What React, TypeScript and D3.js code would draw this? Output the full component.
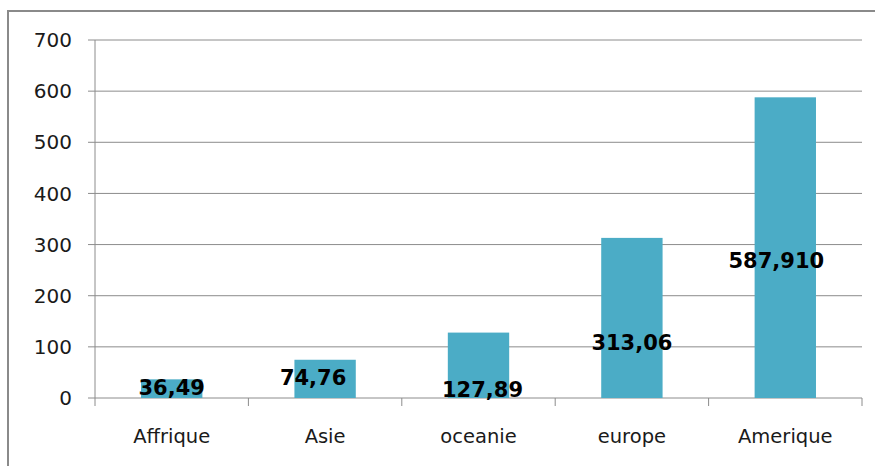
import React from 'react';
import * as d3 from 'd3';

const categories = ['Affrique', 'Asie', 'oceanie', 'europe', 'Amerique'];
const values = [36.49, 74.76, 127.89, 313.06, 587.91];
const valueLabels = ['36,49', '74,76', '127,89', '313,06', '587,910'];
// labels were dragged by hand in the original: baseline value and x nudge
const labelAt = [6, 25, 2, 94, 254];
const labelDx = [0, -12, 4, 0, -9];
const yTicks = [0, 100, 200, 300, 400, 500, 600, 700];

const W = 875;
const H = 466;
const margin = { left: 95, right: 13, top: 40, bottom: 68 };

export default function App() {
  const x = d3
    .scaleBand<string>()
    .domain(categories)
    .range([margin.left, W - margin.right])
    .paddingInner(0.6)
    .paddingOuter(0.3);
  const bandStep = x.step();
  const y = d3.scaleLinear().domain([0, 700]).range([H - margin.bottom, margin.top]);

  const grid = '#8c8c8c';
  const font = 'DejaVu Sans, sans-serif';
  const x0 = margin.left;
  const x1 = W - margin.right;
  const yBase = y(0);

  return (
    <svg width={W} height={H} style={{ position: 'absolute', left: 0, top: 0 }}>
      <rect x={0} y={0} width={W} height={H} fill="#fff" />
      {/* outer frame, right and bottom run off the picture */}
      <rect x={8} y={11} width={W + 10} height={H + 10} fill="none" stroke="#8a8a8a" strokeWidth={2} />

      {yTicks.map((t) => (
        <g key={t}>
          <line x1={x0 - 7} x2={x1} y1={y(t)} y2={y(t)} stroke={grid} strokeWidth={1} />
          <text
            x={72}
            y={y(t)}
            dy="0.36em"
            textAnchor="end"
            fontFamily={font}
            fontSize={20}
            fill="#1a1a1a"
          >
            {t}
          </text>
        </g>
      ))}

      <line x1={x0} x2={x0} y1={margin.top} y2={yBase + 8} stroke={grid} strokeWidth={1} />
      {categories.map((c, i) => (
        <line
          key={'tk' + c}
          x1={x0 + bandStep * (i + 1)}
          x2={x0 + bandStep * (i + 1)}
          y1={yBase}
          y2={yBase + 8}
          stroke={grid}
          strokeWidth={1}
        />
      ))}

      {categories.map((c, i) => (
        <rect
          key={'b' + c}
          x={x(c)}
          y={y(values[i])}
          width={x.bandwidth()}
          height={yBase - y(values[i])}
          fill="#4bacc6"
        />
      ))}

      {categories.map((c, i) => (
        <text
          key={'l' + c}
          x={(x(c) as number) + x.bandwidth() / 2 + labelDx[i]}
          y={y(labelAt[i])}
          textAnchor="middle"
          fontFamily={font}
          fontWeight="bold"
          fontSize={21}
          fill="#000"
        >
          {valueLabels[i]}
        </text>
      ))}

      {categories.map((c) => (
        <text
          key={'c' + c}
          x={(x(c) as number) + x.bandwidth() / 2}
          y={443}
          textAnchor="middle"
          fontFamily={font}
          fontSize={19.5}
          fill="#1a1a1a"
        >
          {c}
        </text>
      ))}
    </svg>
  );
}
